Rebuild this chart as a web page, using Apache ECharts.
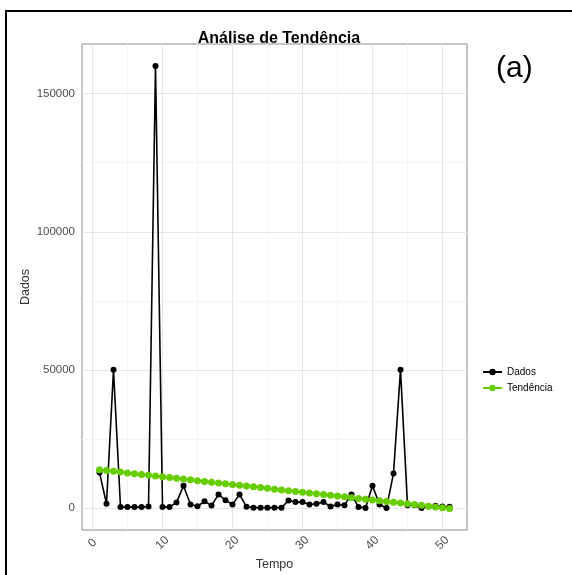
<!DOCTYPE html>
<html>
<head>
<meta charset="utf-8">
<script src="https://cdn.jsdelivr.net/npm/echarts@6/dist/echarts.min.js"></script>
<style>
  html, body { margin: 0; padding: 0; background: #fff; }
  #chart { width: 572px; height: 575px; }
</style>
</head>
<body>
<div id="chart"></div>
<script>
// Time index
const tempo = [1, 2, 3, 4, 5, 6, 7, 8, 9, 10, 11, 12, 13, 14, 15, 16, 17, 18, 19, 20,
  21, 22, 23, 24, 25, 26, 27, 28, 29, 30, 31, 32, 33, 34, 35, 36, 37, 38, 39, 40,
  41, 42, 43, 44, 45, 46, 47, 48, 49, 50, 51];

// Observed series
const dados = [12800, 1500, 50000, 300, 300, 300, 300, 500, 160000, 300,
  300, 2000, 8000, 1200, 600, 2400, 850, 4900, 2800, 1200,
  4900, 400, 100, 100, 100, 100, 100, 2700, 2100, 2100,
  1200, 1500, 2100, 500, 1200, 1000, 4900, 300, 0, 8000,
  1200, 0, 12500, 50000, 1000, 1000, 0, 500, 800, 500, 400];

// Linear trend
const tendencia = [13800, 13520, 13240, 12960, 12680, 12400, 12120, 11840, 11560, 11280,
  11000, 10720, 10440, 10160, 9880, 9600, 9320, 9040, 8760, 8480,
  8200, 7920, 7640, 7360, 7080, 6800, 6520, 6240, 5960, 5680,
  5400, 5120, 4840, 4560, 4280, 4000, 3720, 3440, 3160, 2880,
  2600, 2320, 2040, 1760, 1480, 1200, 920, 640, 360, 80, -200];

// Axis ticks and grid positions
const xTicks = [0, 10, 20, 30, 40, 50];
const xMinor = [5, 15, 25, 35, 45];
const yTicks = [0, 50000, 100000, 150000];
const yMinor = [25000, 75000, 125000];

const pairs = (xs, ys) => xs.map((x, i) => [x, ys[i]]);

const chart = echarts.init(document.getElementById('chart'), null, { renderer: 'canvas' });

const majorColor = '#e6e6e6';
const minorColor = '#f4f4f4';
const gridLines = [
  ...xMinor.map(v => ({ xAxis: v, lineStyle: { color: minorColor, width: 1, type: 'solid' } })),
  ...yMinor.map(v => ({ yAxis: v, lineStyle: { color: minorColor, width: 1, type: 'solid' } })),
  ...xTicks.map(v => ({ xAxis: v, lineStyle: { color: majorColor, width: 1, type: 'solid' } })),
  ...yTicks.map(v => ({ yAxis: v, lineStyle: { color: majorColor, width: 1, type: 'solid' } }))
];

const font = 'Liberation Sans, Arial, sans-serif';

chart.setOption({
  animation: false,
  backgroundColor: '#ffffff',
  title: {
    text: 'Análise de Tendência',
    left: 274,
    textAlign: 'center',
    top: 26,
    textStyle: { fontFamily: font, fontSize: 16, fontWeight: 'bold', color: '#000' }
  },
  legend: {
    orient: 'vertical',
    left: 477,
    top: 362,
    itemGap: 6,
    itemWidth: 19,
    itemHeight: 8,
    textStyle: { fontFamily: font, fontSize: 10, color: '#000' },
    data: ['Dados', 'Tendência']
  },
  grid: {
    left: 82, top: 44, right: 105, bottom: 45,
    outerBoundsMode: 'none',
    show: true, borderColor: '#8c8c8c', borderWidth: 1, backgroundColor: '#fff'
  },
  xAxis: {
    type: 'value',
    min: -1.5,
    max: 53.5,
    name: 'Tempo',
    nameLocation: 'middle',
    nameGap: 28,
    nameMoveOverlap: false,
    nameTextStyle: { fontFamily: font, fontSize: 12.5, color: '#333' },
    axisLine: { show: false },
    splitLine: { show: false },
    axisTick: { show: true, length: 4, customValues: xTicks, lineStyle: { color: '#333' } },
    axisLabel: {
      customValues: xTicks,
      rotate: 45,
      align: 'center',
      verticalAlign: 'middle',
      margin: 13,
      fontFamily: font,
      fontSize: 12,
      color: '#4d4d4d',
      formatter: v => String(v)
    }
  },
  yAxis: {
    type: 'value',
    min: -8000,
    max: 168000,
    name: 'Dados',
    nameLocation: 'middle',
    nameGap: 50,
    nameMoveOverlap: false,
    nameTextStyle: { fontFamily: font, fontSize: 12.5, color: '#333' },
    axisLine: { show: false },
    splitLine: { show: false },
    axisTick: { show: true, length: 4, customValues: yTicks, lineStyle: { color: '#333' } },
    axisLabel: {
      customValues: yTicks,
      margin: 7,
      fontFamily: font,
      fontSize: 11.5,
      color: '#4d4d4d',
      formatter: v => String(v)
    }
  },
  graphic: [
    {
      type: 'rect',
      shape: { x: 6, y: 11, width: 600, height: 600 },
      style: { fill: 'none', stroke: '#000', lineWidth: 2 },
      silent: true
    },
    {
      type: 'text',
      left: 496,
      top: 54,
      style: { text: '(a)', fontFamily: font, fontSize: 30, fill: '#000' },
      silent: true
    }
  ],
  series: [
    {
      name: 'grade',
      type: 'line',
      data: [],
      silent: true,
      z: 1,
      markLine: { silent: true, z: 1, symbol: 'none', label: { show: false }, data: gridLines, animation: false }
    },
    {
      name: 'Dados',
      type: 'line',
      data: pairs(tempo, dados),
      symbol: 'circle',
      symbolSize: 6,
      lineStyle: { color: '#000', width: 1.6 },
      itemStyle: { color: '#000' },
      z: 10
    },
    {
      name: 'Tendência',
      type: 'line',
      data: pairs(tempo, tendencia),
      symbol: 'circle',
      symbolSize: 7,
      lineStyle: { color: '#66cd00', width: 2 },
      itemStyle: { color: '#66cd00' },
      z: 11
    }
  ]
});
</script>
</body>
</html>
